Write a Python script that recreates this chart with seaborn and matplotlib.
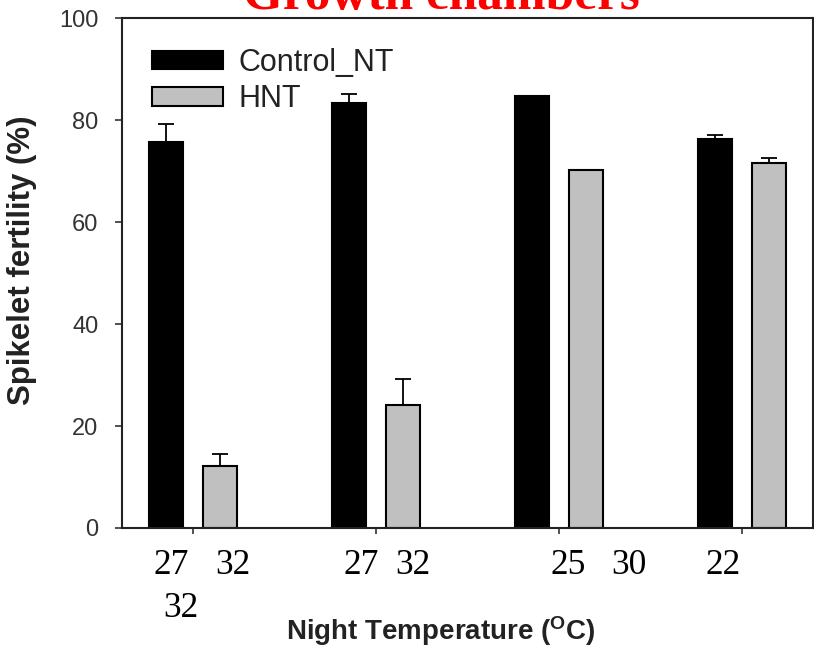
import numpy as np
import pandas as pd
import matplotlib
matplotlib.use("Agg")
import matplotlib.pyplot as plt
import seaborn as sns

# ---- data ----
groups = ["27/32", "27/32 b", "25/30", "22"]
series = ["Control_NT", "HNT"]
control_vals = [75.7, 83.3, 84.7, 76.2]
hnt_vals = [12.2, 24.1, 70.2, 71.5]
control_err = [3.5, 1.8, 0.0, 0.9]
hnt_err = [2.3, 5.1, 0.0, 1.0]
yticks = [0, 20, 40, 60, 80, 100]
temp_labels = ["27", "32", "32", "27", "32", "25", "30", "22"]
title_text = "Growth chambers"
ylabel_text = "Spikelet fertility (%)"
xlabel_text = r"Night Temperature ($\mathbf{^{O}}$C)"

df = pd.DataFrame({
    "group": groups * 2,
    "series": [series[0]] * len(groups) + [series[1]] * len(groups),
    "value": control_vals + hnt_vals,
})

sns.set_theme(style="white")
plt.rcParams["font.family"] = ["Liberation Sans", "DejaVu Sans"]
plt.rcParams["mathtext.fontset"] = "custom"
plt.rcParams["mathtext.rm"] = "Liberation Sans"
plt.rcParams["mathtext.bf"] = "Liberation Sans:bold"

W, H = 814, 649
fig = plt.figure(figsize=(W / 100, H / 100), dpi=100)
L, R, T, B = 122, 813, 18, 528
ax = fig.add_axes([L / W, 1 - B / H, (R - L) / W, (B - T) / H])

palette = {"Control_NT": "black", "HNT": "#c0c0c0"}
sns.barplot(data=df, x="group", y="value", hue="series", hue_order=series,
            order=groups, palette=palette, width=0.6, gap=0.38,
            edgecolor="black", linewidth=1.5, saturation=1, ax=ax,
            errorbar=None, legend=True)

# error bars (upper only) at bar positions
for cont, errs in zip(ax.containers[:2], [control_err, hnt_err]):
    xs, ys, es = [], [], []
    for p, e in zip(cont.patches, errs):
        if e > 0:
            xs.append(p.get_x() + p.get_width() / 2)
            ys.append(p.get_height())
            es.append(e)
    es = np.array(es)
    ax.errorbar(xs, ys, yerr=[np.zeros_like(es), es], fmt="none",
                ecolor="black", elinewidth=1.3, capsize=5.5, capthick=1.3,
                zorder=1)

ax.set_xlim(-0.388, 3.388)
ax.set_ylim(0, 100)
ax.set_yticks(yticks)
ax.set_yticklabels([str(v) for v in yticks], fontsize=17, color="#333333")
ax.set_xticks(range(len(groups)))
ax.set_xticklabels([""] * len(groups))
ax.tick_params(axis="both", direction="out", length=5, width=1.2,
               color="#333333", pad=12, bottom=True, left=True)
ax.tick_params(axis="x", length=4)
for s in ax.spines.values():
    s.set_visible(True)
    s.set_color("#222222")
    s.set_linewidth(1.5)

ax.set_ylabel(ylabel_text, fontsize=22.5, fontweight="bold", color="#222222")
ax.yaxis.label.set_va("center")
ax.yaxis.set_label_coords((22 - L) / (R - L), (B - 260.5) / (B - T))
ax.set_xlabel(xlabel_text, fontsize=20, fontweight="bold", color="#222222")
ax.xaxis.label.set_va("baseline")
ax.xaxis.set_label_coords((441 - L) / (R - L), -(640 - B) / (B - T))

handles, labels = ax.get_legend_handles_labels()
leg = ax.legend(handles, labels, loc="upper left",
                bbox_to_anchor=((152 - L) / (R - L), 1 - (48 - T) / (B - T)),
                frameon=False, fontsize=22, handlelength=2.32,
                handleheight=0.556, handletextpad=0.5, labelspacing=0.2,
                borderaxespad=0, borderpad=0)
for t in leg.get_texts():
    t.set_color("#222222")

# temperature annotations under the axis
tx = [171, 232.5, 181, 361, 412.5, 568.5, 628.5, 723.5]
ty = [574, 574, 617, 574, 574, 574, 574, 574]
for s, x, y in zip(temp_labels, tx, ty):
    fig.text(x / W, 1 - y / H, s, ha="center", va="baseline", fontsize=25.5,
             family="Liberation Serif", color="black")

fig.text(441 / W, 1 - 9 / H, title_text, ha="center", va="baseline",
         fontsize=37, fontweight="bold", color="red", family="Liberation Serif")

fig.savefig("out.png", dpi=100)
